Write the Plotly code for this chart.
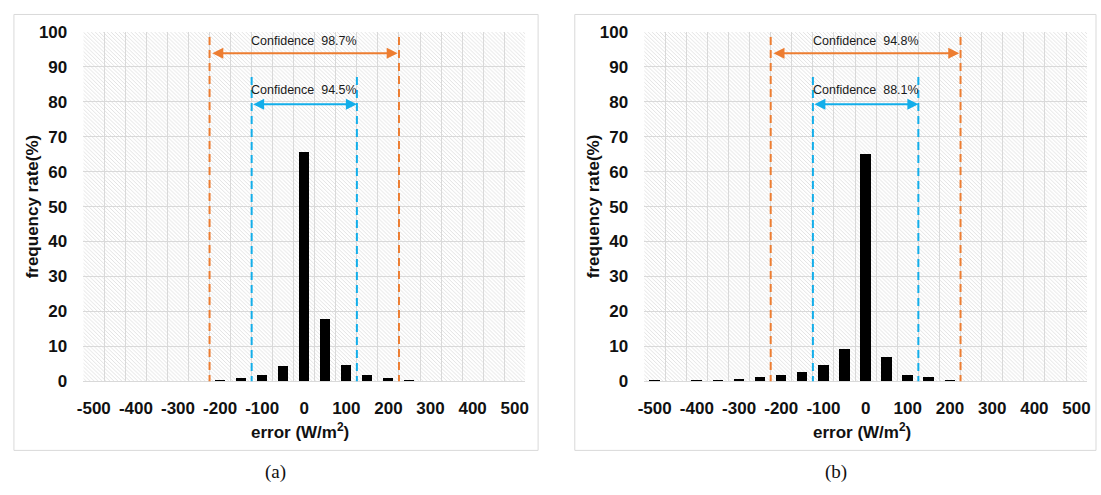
import base64
import plotly.graph_objects as go

# ---------------- data ----------------
categories = [-500, -450, -400, -350, -300, -250, -200, -150, -100, -50, 0,
              50, 100, 150, 200, 250, 300, 350, 400, 450, 500]
x_tick_labels = [-500, -400, -300, -200, -100, 0, 100, 200, 300, 400, 500]
y_tick_labels = [0, 10, 20, 30, 40, 50, 60, 70, 80, 90, 100]

freq_a = [0, 0, 0, 0, 0, 0, 0.4, 1.0, 1.8, 4.3, 65.6,
          17.9, 4.6, 1.8, 0.8, 0.4, 0, 0, 0, 0, 0]
freq_b = [0.4, 0, 0.4, 0.4, 0.7, 1.2, 1.7, 2.6, 4.6, 9.1, 65.0,
          6.8, 1.7, 1.2, 0.4, 0, 0, 0, 0, 0, 0]

outer_bounds = [-225, 225]   # orange dashed lines
inner_bounds = [-125, 125]   # blue dashed lines
conf_outer = {"a": "98.7%", "b": "94.8%"}
conf_inner = {"a": "94.5%", "b": "88.1%"}
panel_labels = ["(a)", "(b)"]

# ---------------- style ----------------
W, H = 1101, 495
ORANGE = "#ED7D31"
BLUE = "#12AEEA"
GRID = "#d9d9d9"
FONT = "Liberation Sans"

y_dom = [1 - 387 / H, 1 - 24 / H]
x_doms = [[78 / W, 524 / W], [644 / W, 1091 / W]]
boundaries = [c - 25 for c in categories] + [categories[-1] + 25]

hatch_svg = (
    "<svg xmlns='http://www.w3.org/2000/svg' width='446' height='363' preserveAspectRatio='none'>"
    "<defs><pattern id='p' width='4' height='4' patternUnits='userSpaceOnUse'>"
    "<path d='M-1,-1 L5,5 M-1,3 L1,5 M3,-1 L5,1' stroke='#dadada' stroke-width='0.8'/>"
    "</pattern></defs>"
    "<rect width='100%' height='100%' fill='#ffffff'/>"
    "<rect width='100%' height='100%' fill='url(#p)'/></svg>"
)
hatch_uri = "data:image/svg+xml;base64," + base64.b64encode(hatch_svg.encode()).decode()

fig = go.Figure()
shapes, annotations, images = [], [], []

for i, (freq, key) in enumerate([(freq_a, "a"), (freq_b, "b")]):
    xa = "x" if i == 0 else "x2"
    ya = "y" if i == 0 else "y2"
    fig.add_trace(go.Bar(x=categories, y=freq, width=25, marker_color="black",
                         marker_line_width=0, xaxis=xa, yaxis=ya,
                         showlegend=False, hoverinfo="skip"))
    axis_x = dict(domain=x_doms[i], range=[-525, 525], tickmode="array",
                  tickvals=x_tick_labels, ticktext=[str(v) for v in x_tick_labels],
                  showgrid=False, zeroline=False, showline=True, linecolor=GRID,
                  linewidth=1, ticks="", ticklabelstandoff=11,
                  tickfont=dict(family=FONT, size=17, color="#111", weight="bold"),
                  minor=dict(tickmode="array", tickvals=boundaries, showgrid=True,
                             gridcolor=GRID, gridwidth=1),
                  anchor=ya, fixedrange=True)
    axis_y = dict(domain=y_dom, range=[0, 100], tickmode="array",
                  tickvals=y_tick_labels, showgrid=True, gridcolor=GRID, gridwidth=1,
                  zeroline=False, showline=False, ticks="", ticklabelstandoff=15,
                  tickfont=dict(family=FONT, size=17, color="#111", weight="bold"),
                  anchor=xa, fixedrange=True)
    fig.update_layout(**{("xaxis" if i == 0 else "xaxis2"): axis_x,
                         ("yaxis" if i == 0 else "yaxis2"): axis_y})

    images.append(dict(source=hatch_uri, xref="paper", yref="paper",
                       x=x_doms[i][0], y=y_dom[1], sizex=x_doms[i][1] - x_doms[i][0],
                       sizey=y_dom[1] - y_dom[0], sizing="stretch", layer="below",
                       xanchor="left", yanchor="top"))

    for xv in outer_bounds:
        shapes.append(dict(type="line", xref=xa, yref=ya, x0=xv, x1=xv, y0=-0.5, y1=100,
                           line=dict(color=ORANGE, width=2, dash="8px,5px")))
    for xv in inner_bounds:
        shapes.append(dict(type="line", xref=xa, yref=ya, x0=xv, x1=xv, y0=-0.8, y1=87.5,
                           line=dict(color=BLUE, width=2, dash="8px,5px")))

    annotations.append(dict(x=outer_bounds[1] - 3, y=93.9, ax=outer_bounds[0] + 3, ay=93.9,
                            xref=xa, yref=ya, axref=xa, ayref=ya, text="", showarrow=True,
                            arrowside="end+start", arrowhead=2, arrowsize=1.1,
                            arrowwidth=2, arrowcolor=ORANGE, standoff=0, startstandoff=0))
    annotations.append(dict(x=inner_bounds[1], y=79.3, ax=inner_bounds[0], ay=79.3,
                            xref=xa, yref=ya, axref=xa, ayref=ya, text="", showarrow=True,
                            arrowside="end+start", arrowhead=2, arrowsize=1.1,
                            arrowwidth=2, arrowcolor=BLUE, standoff=0, startstandoff=0))
    annotations.append(dict(x=0, y=97.3, xref=xa, yref=ya, showarrow=False,
                            xanchor="center", yanchor="middle",
                            text="Confidence\u00a0 " + conf_outer[key],
                            font=dict(family=FONT, size=12.5, color="#1a1a1a")))
    annotations.append(dict(x=0, y=83.4, xref=xa, yref=ya, showarrow=False,
                            xanchor="center", yanchor="middle",
                            text="Confidence\u00a0 " + conf_inner[key],
                            font=dict(family=FONT, size=12.5, color="#1a1a1a")))

    cx = (x_doms[i][0] + x_doms[i][1]) / 2
    annotations.append(dict(x=cx - 4 / W, y=1 - 439 / H, xref="paper", yref="paper",
                            xanchor="center", yanchor="middle",
                            showarrow=False, text="error (W/m<sup>2</sup>)",
                            font=dict(family=FONT, size=17, color="#111", weight="bold")))
    annotations.append(dict(x=(27 if i == 0 else 593) / W, y=(y_dom[0] + y_dom[1]) / 2,
                            xref="paper", yref="paper", showarrow=False, textangle=-90,
                            xanchor="center", yanchor="middle",
                            text="frequency rate(%)",
                            font=dict(family=FONT, size=17, color="#111", weight="bold")))
    annotations.append(dict(x=(272 if i == 0 else 838) / W, y=1 - 482 / H,
                            xref="paper", yref="paper", showarrow=False,
                            xanchor="center", yanchor="middle",
                            text=panel_labels[i],
                            font=dict(family="Liberation Serif", size=19, color="#111")))

for x0, x1 in [(8, 537), (574, 1100)]:
    shapes.append(dict(type="rect", xref="paper", yref="paper", x0=x0 / W, x1=x1 / W,
                       y0=1 - 459 / H, y1=1 - 5.7 / H, line=dict(color=GRID, width=1),
                       layer="below"))

fig.update_layout(autosize=True, margin=dict(l=0, r=0, t=0, b=0),
                  paper_bgcolor="white", plot_bgcolor="white", bargap=0,
                  shapes=shapes, annotations=annotations, images=images)

fig.write_html("out.html",
               config={"displayModeBar": False, "responsive": True},
               default_width="100vw; position:absolute; left:0px; top:0px",
               default_height="100vh")
